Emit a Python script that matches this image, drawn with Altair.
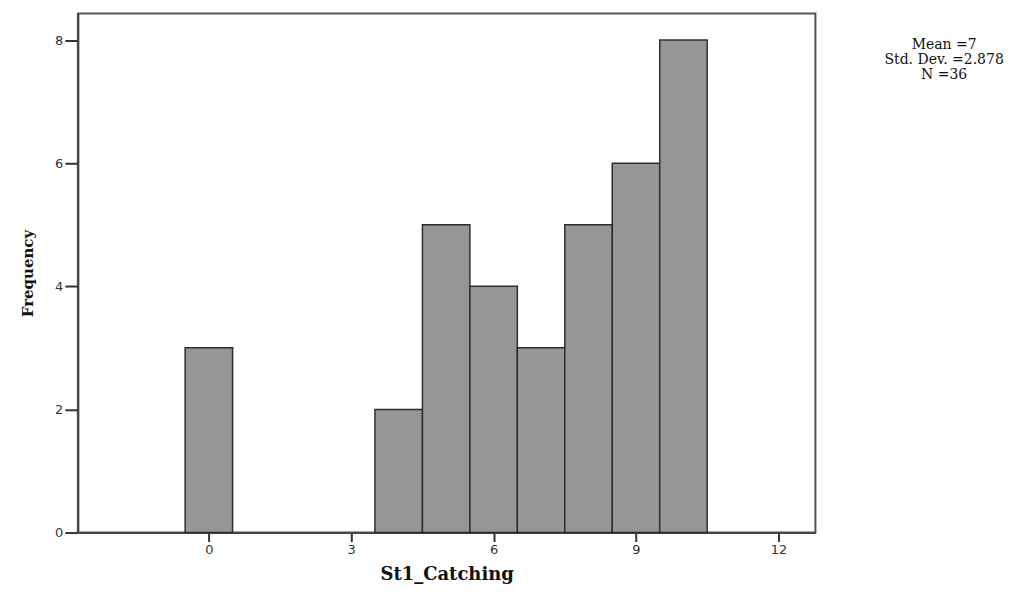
import altair as alt
import pandas as pd

bin_start = [-0.5, 3.5, 4.5, 5.5, 6.5, 7.5, 8.5, 9.5]
bin_end = [0.5, 4.5, 5.5, 6.5, 7.5, 8.5, 9.5, 10.5]
counts = [3, 2, 5, 4, 3, 5, 6, 8]
x_ticks = [0, 3, 6, 9, 12]
y_ticks = [0, 2, 4, 6, 8]
stats_lines = ["Mean =7", "Std. Dev. =2.878", "N =36"]

df = pd.DataFrame({"start": bin_start, "end": bin_end, "count": counts})

W, H = 739, 520

bars = alt.Chart(df).mark_rect(
    fill="#969696", stroke="#2e2e2e", strokeWidth=1.5
).encode(
    x=alt.X("start:Q",
            scale=alt.Scale(domain=[-2.76, 12.78], nice=False, zero=False),
            axis=alt.Axis(values=x_ticks, title="St1_Catching", grid=False,
                          tickSize=9, tickColor="#333", tickWidth=2,
                          domainColor="#444", domainWidth=2,
                          labelFont="DejaVu Sans", labelFontSize=13, labelColor="#333",
                          labelPadding=2,
                          titleFont="DejaVu Serif", titleFontSize=18, titleFontWeight="bold",
                          titleColor="#111", titlePadding=9)),
    x2="end:Q",
    y=alt.Y("count:Q",
            scale=alt.Scale(domain=[0, 8.43], nice=False),
            axis=alt.Axis(values=y_ticks, title="Frequency", grid=False,
                          tickSize=13, tickColor="#333", tickWidth=2,
                          domainColor="#444", domainWidth=2,
                          labelFont="DejaVu Sans", labelFontSize=13, labelColor="#333",
                          labelPadding=2,
                          titleFont="DejaVu Serif", titleFontSize=15, titleFontWeight="bold",
                          titleColor="#111", titlePadding=19)),
    y2=alt.datum(0),
)

stats = alt.Chart(pd.DataFrame({"t": [stats_lines]})).mark_text(
    font="DejaVu Serif", fontSize=14, color="#111", align="center",
    baseline="top", lineHeight=15
).encode(
    text="t",
    x=alt.value(W + 129),
    y=alt.value(25),
)

chart = alt.layer(bars, stats).properties(
    width=W, height=H,
    autosize=alt.AutoSizeParams(type="none"),
    padding={"left": 70, "top": 5, "right": 200, "bottom": 58},
).configure_view(stroke="#555", strokeWidth=2)

chart.save("out.html", embed_options={"renderer": "svg", "actions": False})
